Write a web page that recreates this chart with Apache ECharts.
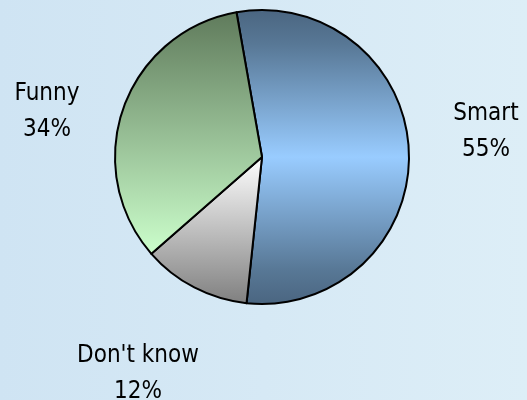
<!DOCTYPE html>
<html>
<head>
<meta charset="utf-8">
<script src="https://cdn.jsdelivr.net/npm/echarts@6/dist/echarts.min.js"></script>
<style>
html,body{margin:0;padding:0;}
#chart{width:527px;height:400px;}
</style>
</head>
<body>
<div id="chart"></div>
<script>
var categories = ["Smart", "Don't know", "Funny"];
var values = [55, 12, 34];

var labelPos = [[486, 132], [138, 374], [47, 112]];

var fills = [
  {type:'linear',x:0,y:0,x2:0,y2:1,colorStops:[{offset:0,color:'#4a6580'},{offset:0.12,color:'#587896'},{offset:0.5,color:'#99ccff'},{offset:0.88,color:'#587896'},{offset:1,color:'#4a6580'}]},
  {type:'linear',x:0,y:0,x2:0,y2:1,colorStops:[{offset:0,color:'#ffffff'},{offset:1,color:'#7f7f7f'}]},
  {type:'linear',x:0,y:0,x2:0,y2:1,colorStops:[{offset:0,color:'#5f7a5b'},{offset:1,color:'#ccffcc'}]}
];

var data = categories.map(function(c, i){
  return {name: c, value: values[i], itemStyle: {color: fills[i]}};
});

var chart = echarts.init(document.getElementById('chart'), null, {renderer:'canvas'});
chart.setOption({
  backgroundColor: {type:'linear',x:0,y:0,x2:1,y2:0,colorStops:[{offset:0,color:'#cfe4f3'},{offset:1,color:'#ddeef7'}]},
  animation: false,
  series: [{
    type: 'pie',
    center: [262, 157],
    radius: 147,
    startAngle: 100,
    clockwise: true,
    data: data,
    itemStyle: {borderColor: '#000', borderWidth: 2},
    label: {
      show: true,
      position: 'outside',
      formatter: '{b}\n{c}%',
      fontFamily: 'DejaVu Sans Condensed',
      fontSize: 24,
      lineHeight: 36,
      color: '#000',
      align: 'center',
      overflow: 'none'
    },
    labelLine: {show: false},
    labelLayout: function(params){
      var p = labelPos[params.dataIndex];
      return {x: p[0], y: p[1], align: 'center', verticalAlign: 'middle', width: 200};
    },
    emphasis: {disabled: true}
  }]
});
</script>
</body>
</html>
